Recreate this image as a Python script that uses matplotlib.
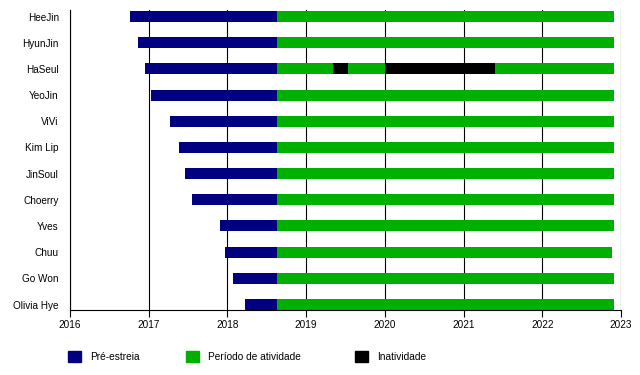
import matplotlib.pyplot as plt
from matplotlib.patches import Patch

plt.rcParams['font.family'] = ['Liberation Sans', 'DejaVu Sans']

# membros e datas (anos decimais)
nomes = ['HeeJin', 'HyunJin', 'HaSeul', 'YeoJin', 'ViVi', 'Kim Lip',
         'JinSoul', 'Choerry', 'Yves', 'Chuu', 'Go Won', 'Olivia Hye']
inicio_pre = [2016.76, 2016.87, 2016.95, 2017.03, 2017.27, 2017.38,
              2017.46, 2017.55, 2017.90, 2017.97, 2018.07, 2018.22]
estreia = [2018.63] * 12
fim = [2022.91, 2022.91, 2022.91, 2022.91, 2022.91, 2022.91,
       2022.91, 2022.91, 2022.91, 2022.88, 2022.91, 2022.91]
# periodos de inatividade (membro, inicio, fim)
inatividade = [('HaSeul', 2019.34, 2019.53), ('HaSeul', 2020.00, 2021.40)]
anos = list(range(2016, 2024))

cor_pre = '#000080'
cor_ativ = '#00b000'
cor_inat = '#000000'

fig = plt.figure(figsize=(6.4, 3.75), dpi=100)
ax = fig.add_axes([70 / 640, 1 - 310 / 375, 551 / 640, 300 / 375])

y = list(range(len(nomes)))
alt = 0.42
ax.barh(y, [e - s for s, e in zip(inicio_pre, estreia)], left=inicio_pre,
        height=alt, color=cor_pre, zorder=2)
ax.barh(y, [f - e for e, f in zip(estreia, fim)], left=estreia,
        height=alt, color=cor_ativ, zorder=2)
for nome, a, b in inatividade:
    ax.barh(nomes.index(nome), b - a, left=a, height=alt, color=cor_inat, zorder=3)

ax.set_xlim(2016, 2023)
ax.set_ylim(len(nomes) - 1 + 0.21, -0.25)
ax.set_xticks(anos)
ax.set_xticklabels([str(a) for a in anos], fontsize=7.2)
ax.set_yticks(y)
ax.set_yticklabels(nomes, fontsize=7.2)
ax.tick_params(axis='y', length=0, pad=8)
ax.tick_params(axis='x', length=5, width=0.8, pad=2, color='black')
ax.grid(axis='x', color='black', linewidth=0.8)
ax.set_axisbelow(True)
for s in ['top', 'right']:
    ax.spines[s].set_visible(False)
for s in ['left', 'bottom']:
    ax.spines[s].set_linewidth(0.8)

# legenda: uma entrada por coluna, em posicoes fixas como no original
itens = [('Pré-estreia', cor_pre, 68), ('Período de atividade', cor_ativ, 186),
         ('Inatividade', cor_inat, 355)]
for rotulo, cor, px in itens:
    fig.legend(handles=[Patch(color=cor, label=rotulo)], loc='upper left',
               bbox_to_anchor=(px / 640, 1 - 351 / 375),
               bbox_transform=fig.transFigure, frameon=False, fontsize=7.3,
               handlelength=1.3, handleheight=1.3, handletextpad=0.9,
               borderpad=0, borderaxespad=0)

fig.savefig('out.png', dpi=100)
